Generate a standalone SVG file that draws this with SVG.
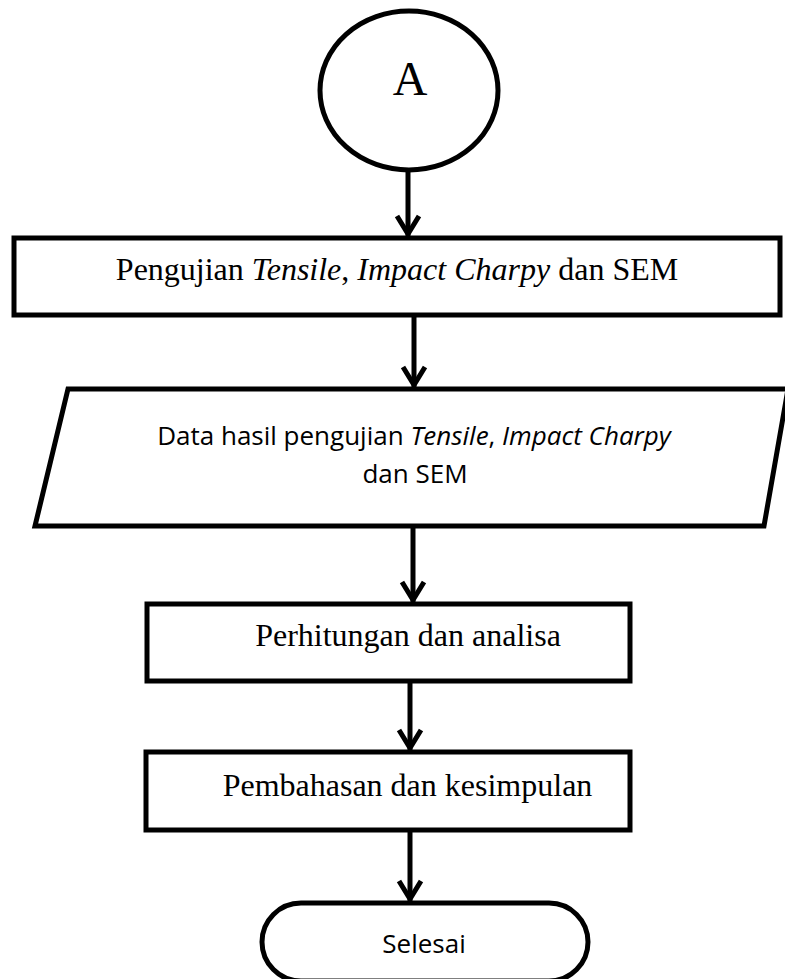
<svg xmlns="http://www.w3.org/2000/svg" width="785" height="979" viewBox="0 0 785 979">
<style>
.shape{fill:#fff;stroke:#000;stroke-width:5}
.conn{fill:none;stroke:#000;stroke-width:5}
.tnr{font-family:"Liberation Serif","Times New Roman",serif;font-size:32px;fill:#000}
.cal{font-family:"Open Sans","Liberation Sans",sans-serif;font-size:26px;fill:#000}
</style>
<defs>
<marker id="arr" markerUnits="userSpaceOnUse" viewBox="-25 -15 30 30" refX="0" refY="0" markerWidth="30" markerHeight="30" orient="auto" overflow="visible">
<path d="M-22,-11 L-4,0 L-22,11" fill="none" stroke="#000" stroke-width="5"/>
</marker>
</defs>
<rect width="785" height="979" fill="#fff"/>
<g id="connectors">
<line class="conn" x1="408" y1="170" x2="408" y2="238" marker-end="url(#arr)"/>
<line class="conn" x1="414" y1="315" x2="414" y2="389" marker-end="url(#arr)"/>
<line class="conn" x1="413" y1="526" x2="413" y2="604" marker-end="url(#arr)"/>
<line class="conn" x1="410" y1="681" x2="410" y2="752" marker-end="url(#arr)"/>
<line class="conn" x1="410" y1="830" x2="410" y2="903" marker-end="url(#arr)"/>
</g>
<g id="node-A">
<ellipse class="shape" cx="409" cy="90.5" rx="89" ry="79.5"/>
<text class="tnr" x="410" y="95" text-anchor="middle" style="font-size:48px">A</text>
</g>
<g id="node-pengujian">
<rect class="shape" x="14" y="238" width="766" height="77"/>
<text class="tnr" x="397" y="280" text-anchor="middle">Pengujian <tspan font-style="italic">Tensile</tspan>, <tspan font-style="italic">Impact Charpy</tspan> dan SEM</text>
</g>
<g id="node-data">
<polygon class="shape" points="68,389 788,389 764,526 35,526"/>
<text class="cal" x="414" y="445" text-anchor="middle">Data hasil pengujian <tspan font-style="italic">Tensile</tspan>, <tspan font-style="italic">Impact Charpy</tspan></text>
<text class="cal" x="415" y="483" text-anchor="middle">dan SEM</text>
</g>
<g id="node-perhitungan">
<rect class="shape" x="147" y="604" width="483" height="77"/>
<text class="tnr" x="408" y="646" text-anchor="middle">Perhitungan dan analisa</text>
</g>
<g id="node-pembahasan">
<rect class="shape" x="146" y="752" width="484" height="78"/>
<text class="tnr" x="407.5" y="796" text-anchor="middle">Pembahasan dan kesimpulan</text>
</g>
<g id="node-selesai">
<rect class="shape" x="262" y="903" width="326" height="78" rx="39" ry="39"/>
<text class="cal" x="424" y="953" text-anchor="middle">Selesai</text>
</g>
</svg>
